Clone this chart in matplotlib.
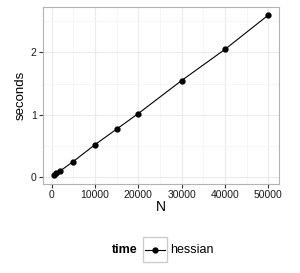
import matplotlib
matplotlib.use("Agg")
import matplotlib.pyplot as plt
from matplotlib.lines import Line2D
from matplotlib.patches import Rectangle

plt.rcParams['font.family'] = ['Liberation Sans', 'DejaVu Sans']

N = [500, 1000, 2000, 5000, 10000, 15000, 20000, 30000, 40000, 50000]
seconds = [0.03, 0.06, 0.10, 0.25, 0.52, 0.77, 1.02, 1.55, 2.05, 2.60]
xticks = [0, 10000, 20000, 30000, 40000, 50000]
yticks = [0, 1, 2]
xminor = [5000, 15000, 25000, 35000, 45000]
yminor = [0.5, 1.5, 2.5]

fig = plt.figure(figsize=(3.0, 2.73), dpi=100)
W, H = 300, 273
ax = fig.add_axes([43 / W, 1 - 184 / H, (279 - 43) / W, (184 - 7) / H])

ax.set_xlim(-1975, 52475)
ax.set_ylim(-0.11, 2.73)
ax.set_xticks(xticks)
ax.set_yticks(yticks)
ax.set_xticks(xminor, minor=True)
ax.set_yticks(yminor, minor=True)
ax.grid(True, which='major', color='#ebebeb', linewidth=0.8)
ax.grid(True, which='minor', color='#f5f5f5', linewidth=0.6)
ax.set_axisbelow(True)
for s in ax.spines.values():
    s.set_color('#b3b3b3')
    s.set_linewidth(0.8)
ax.tick_params(which='major', length=3, width=0.8, color='#333333', labelsize=7.5, labelcolor='#1a1a1a', pad=1.5)
ax.tick_params(which='minor', length=0)

ax.plot(N, seconds, color='black', linewidth=0.8, marker='o', markersize=3.5)

ax.set_xlabel('N', fontsize=10, labelpad=0)
ax.set_ylabel('seconds', fontsize=9.5, labelpad=3)

# legend
fig.text(137 / W, 1 - 250 / H, 'time', fontsize=9, fontweight='bold', ha='right', va='center')
fig.patches.append(Rectangle((143 / W, 1 - 262 / H), 24 / W, 25 / H, transform=fig.transFigure,
                             facecolor='white', edgecolor='#cccccc', linewidth=1.0))
fig.lines.append(Line2D([145 / W, 165 / W], [1 - 250 / H, 1 - 250 / H], transform=fig.transFigure,
                        color='black', linewidth=0.8, marker=None))
fig.lines.append(Line2D([155 / W], [1 - 250 / H], transform=fig.transFigure,
                        color='black', marker='o', markersize=3.5, linestyle='none'))
fig.text(170 / W, 1 - 250 / H, 'hessian', fontsize=9, ha='left', va='center')

fig.savefig('out.png', dpi=100)
